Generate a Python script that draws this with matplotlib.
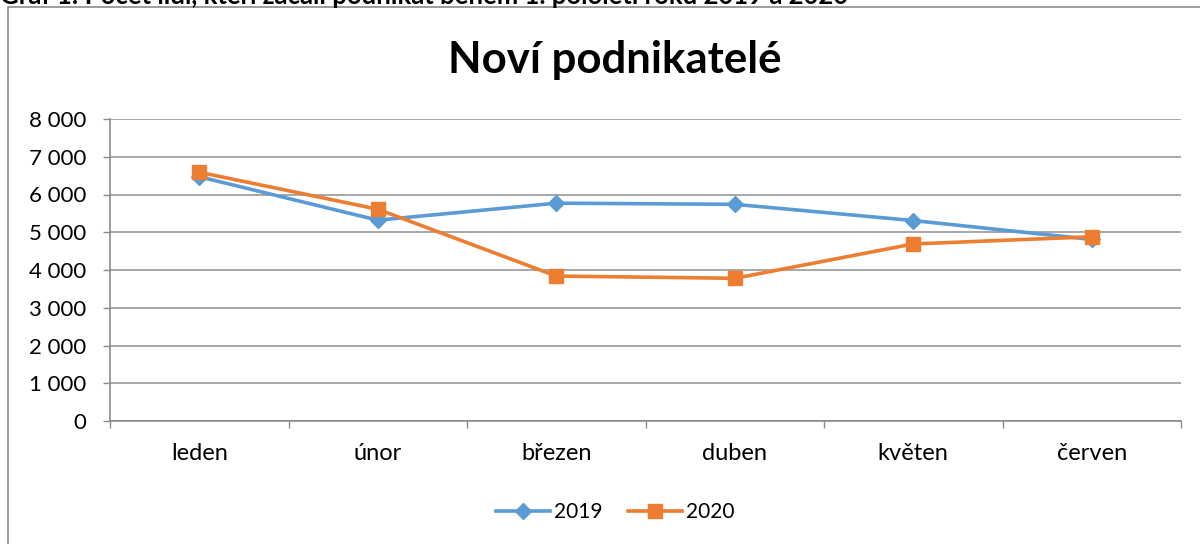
import matplotlib
matplotlib.use("Agg")
import matplotlib.pyplot as plt
from matplotlib.patches import Rectangle
from matplotlib.ticker import FuncFormatter, FixedLocator

months = ["leden", "únor", "březen", "duben", "květen", "červen"]
v2019 = [6470, 5320, 5770, 5740, 5310, 4810]
v2020 = [6590, 5610, 3840, 3780, 4690, 4880]
yticks = [0, 1000, 2000, 3000, 4000, 5000, 6000, 7000, 8000]

FONT = ["Lato", "DejaVu Sans"]
plt.rcParams["font.family"] = FONT

fig = plt.figure(figsize=(12, 5.44), dpi=100)
W, H = 1200, 544

# outer chart frame
fig.patches.append(Rectangle((8 / W, -0.1), 1.2, 1 - 7 / H + 0.1, transform=fig.transFigure,
                             fill=False, edgecolor="#8c8c8c", linewidth=1.2))
# caption at top (clipped by the page edge, as in the reference)
fig.text(0.0, 1 - 4 / H, "Graf 1: Počet lidí, kteří začali podnikat během 1. pololetí roku 2019 a 2020",
         fontsize=18.5, fontweight="bold", ha="left", va="baseline", color="black")

ax = fig.add_axes([110 / W, 1 - 421 / H, (1181 - 110) / W, (421 - 119) / H])
x = list(range(len(months)))
ax.plot(x, v2019, color="#5B9BD5", lw=2.6, marker="D", markersize=8.5, label="2019", zorder=3)
ax.plot(x, v2020, color="#ED7D31", lw=2.6, marker="s", markersize=10, label="2020", zorder=4)

ax.set_xlim(-0.5, len(months) - 0.5)
ax.set_ylim(0, 8000)
ax.set_yticks(yticks)
ax.yaxis.set_major_formatter(FuncFormatter(lambda v, p: f"{int(v):,}".replace(",", " ")))
ax.set_xticks(x)
ax.set_xticklabels(months)
ax.xaxis.set_minor_locator(FixedLocator([i - 0.5 for i in range(len(months) + 1)]))
ax.tick_params(axis="x", which="major", length=0, pad=16, labelsize=17)
ax.tick_params(axis="x", which="minor", length=5, width=1, color="#8c8c8c")
ax.tick_params(axis="y", length=5, width=1, color="#8c8c8c", pad=12, labelsize=16)

ax.grid(axis="y", color="#a0a0a0", lw=1.3)
ax.set_axisbelow(True)
for s in ["top", "right"]:
    ax.spines[s].set_visible(False)
for s in ["left", "bottom"]:
    ax.spines[s].set_color("#8c8c8c")
    ax.spines[s].set_linewidth(1.2)

fig.text(615 / W, 1 - 60 / H, "Noví podnikatelé", fontsize=31.5, fontweight="bold",
         ha="center", va="center")

leg = fig.legend(loc="center", bbox_to_anchor=(615 / W, 1 - 512 / H), ncol=2, frameon=False,
                 fontsize=15, handlelength=2.6, columnspacing=1.2, handletextpad=0.2)

fig.savefig("out.png", dpi=100)
